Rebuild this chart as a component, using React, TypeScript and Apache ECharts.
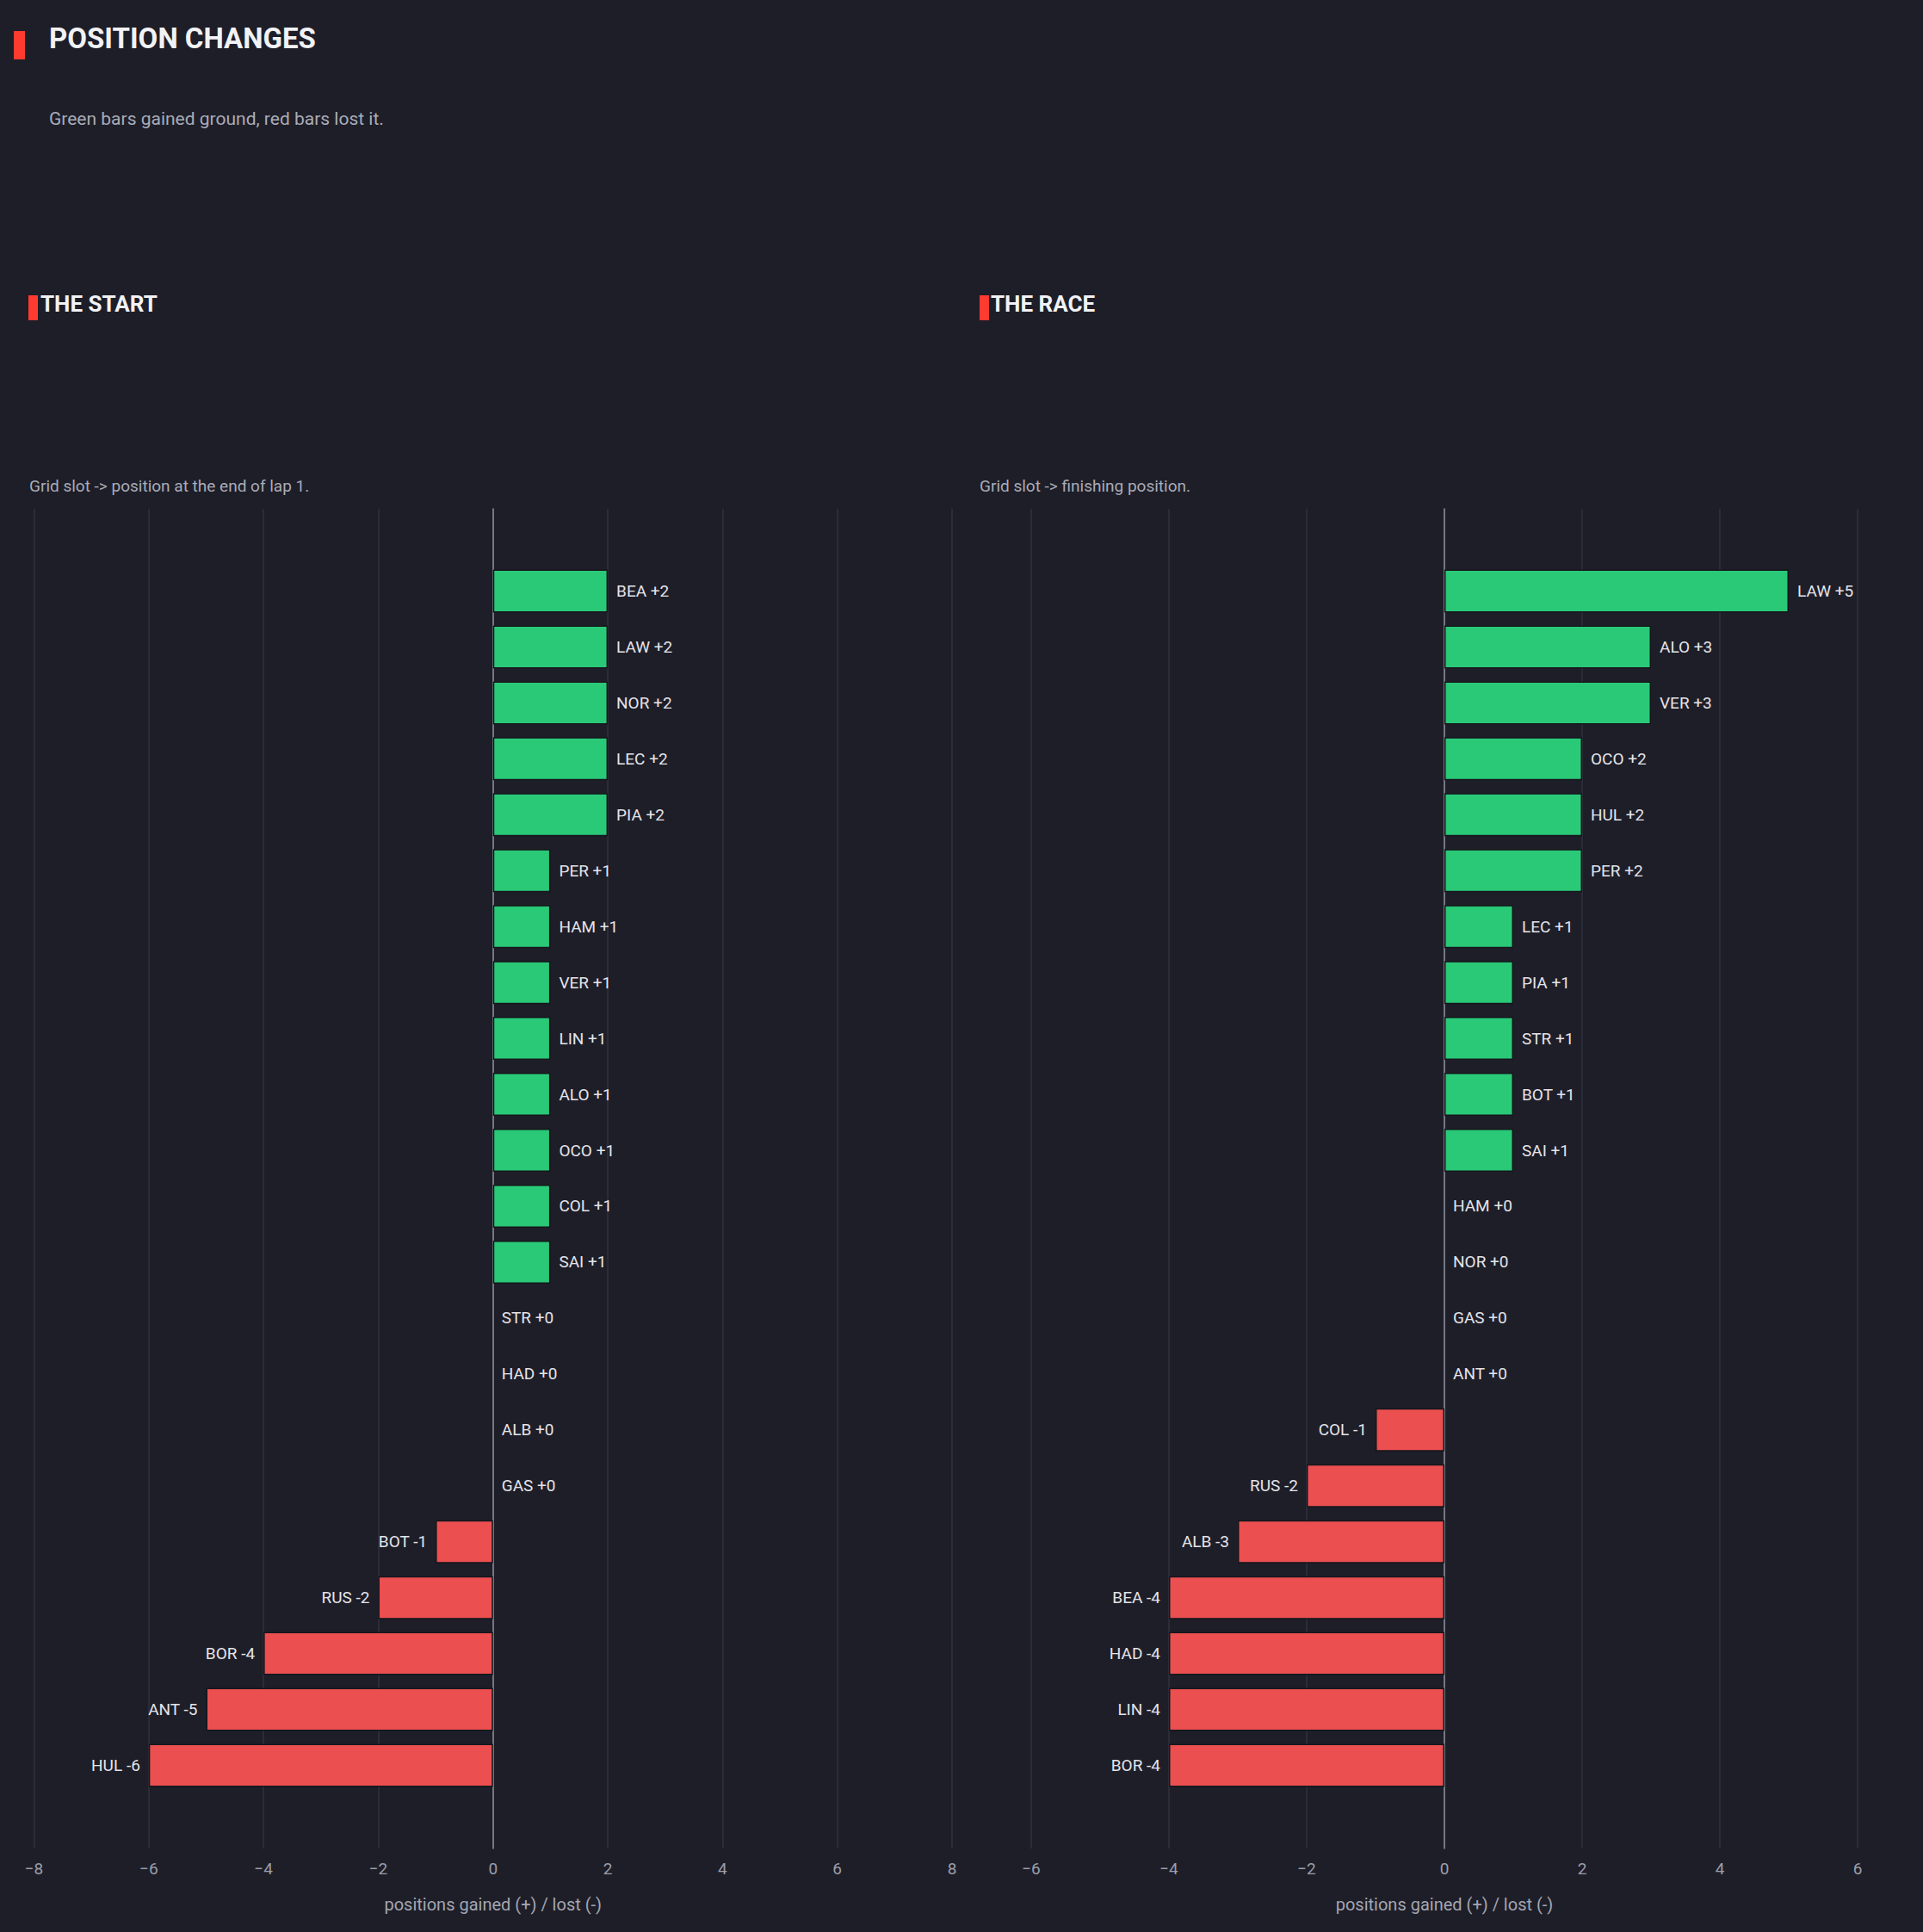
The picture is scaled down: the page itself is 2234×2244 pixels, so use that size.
import React, { useEffect, useRef } from "react";
import * as echarts from "echarts";

const startDrivers = ["BEA", "LAW", "NOR", "LEC", "PIA", "PER", "HAM", "VER", "LIN", "ALO", "OCO", "COL", "SAI", "STR", "HAD", "ALB", "GAS", "BOT", "RUS", "BOR", "ANT", "HUL"];
const startValues = [2, 2, 2, 2, 2, 1, 1, 1, 1, 1, 1, 1, 1, 0, 0, 0, 0, -1, -2, -4, -5, -6];

const raceDrivers = ["LAW", "ALO", "VER", "OCO", "HUL", "PER", "LEC", "PIA", "STR", "BOT", "SAI", "HAM", "NOR", "GAS", "ANT", "COL", "RUS", "ALB", "BEA", "HAD", "LIN", "BOR"];
const raceValues = [5, 3, 3, 2, 2, 2, 1, 1, 1, 1, 1, 0, 0, 0, 0, -1, -2, -3, -4, -4, -4, -4];

const startTicks = { min: -8, max: 8, interval: 2 };
const raceTicks = { min: -6, max: 6, interval: 2 };

const TITLE = "POSITION CHANGES";
const SUBTITLE = "Green bars gained ground, red bars lost it.";
const START_TITLE = "THE START";
const START_SUB = "Grid slot -> position at the end of lap 1.";
const RACE_TITLE = "THE RACE";
const RACE_SUB = "Grid slot -> finishing position.";
const AXIS_NAME = "positions gained (+) / lost (-)";

const FONT = "Roboto, 'Noto Sans', sans-serif";
const BG = "#1e1e28";
const GREEN = "#2ac977";
const RED = "#eb4f50";
const ACCENT = "#ff3b30";

function panel(idx: number, left: number, width: number, ticks: any, drivers: string[], values: number[]) {
  const a = idx * 2;
  const b = a + 1;
  const grids = [
    { left, top: 591, width, height: 1556 },
    { left, top: 654, width, height: 1429 },
  ];
  const xAxes = [
    {
      gridIndex: a,
      type: "value",
      min: ticks.min,
      max: ticks.max,
      interval: ticks.interval,
      axisLine: { show: false },
      axisTick: { show: false },
      splitLine: { show: true, lineStyle: { color: "#30323e", width: 1.5 } },
      axisLabel: { color: "#9b9eab", fontSize: 19, fontFamily: FONT, margin: 14, formatter: (v: number) => (v < 0 ? "\u2212" + Math.abs(v) : String(v)) },
      name: AXIS_NAME,
      nameLocation: "middle",
      nameGap: 55,
      nameTextStyle: { color: "#a3a6b2", fontSize: 20, fontFamily: FONT },
    },
    {
      gridIndex: b,
      type: "value",
      min: ticks.min,
      max: ticks.max,
      interval: ticks.interval,
      show: false,
      splitLine: { show: false },
    },
  ];
  const yAxes = [
    {
      gridIndex: a,
      type: "value",
      min: 0,
      max: 1,
      axisLabel: { show: false },
      axisTick: { show: false },
      splitLine: { show: false },
      axisLine: { show: true, onZero: true, lineStyle: { color: "#8d909c", width: 1.5 } },
    },
    {
      gridIndex: b,
      type: "category",
      data: drivers,
      inverse: true,
      show: false,
    },
  ];
  const series = [
    { type: "scatter", xAxisIndex: a, yAxisIndex: a, data: [], silent: true },
    {
      type: "bar",
      xAxisIndex: b,
      yAxisIndex: b,
      barCategoryGap: "23%",
      data: values.map((v, i) => ({
        value: v,
        itemStyle: { color: v >= 0 ? GREEN : RED, borderColor: "#15161c", borderWidth: v === 0 ? 0 : 1.5 },
        label: {
          show: true,
          position: v >= 0 ? "right" : "left",
          distance: 10,
          color: "#e4e4ea",
          fontSize: 19,
          fontFamily: FONT,
          formatter: () => `${drivers[i]} ${v >= 0 ? "+" : "-"}${Math.abs(v)}`,
        },
      })),
    },
  ];
  return { grids, xAxes, yAxes, series };
}

export default function App() {
  const ref = useRef<HTMLDivElement>(null);
  useEffect(() => {
    document.body.style.margin = "0";
    document.body.style.background = BG;
    const chart = echarts.init(ref.current!, null, { renderer: "svg" });
    const p1 = panel(0, 39.5, 1066.5, startTicks, startDrivers, startValues);
    const p2 = panel(1, 1198, 960, raceTicks, raceDrivers, raceValues);
    chart.setOption({
      animation: false,
      backgroundColor: BG,
      grid: [...p1.grids, ...p2.grids],
      xAxis: [...p1.xAxes, ...p2.xAxes],
      yAxis: [...p1.yAxes, ...p2.yAxes],
      series: [...p1.series, ...p2.series],
      graphic: [
        { type: "rect", shape: { x: 16, y: 36, width: 13, height: 33 }, style: { fill: ACCENT } },
        { type: "text", x: 57, y: 44, style: { text: TITLE, fill: "#f2f2f5", fontSize: 33, fontWeight: "bold", fontFamily: FONT, textVerticalAlign: "middle" } },
        { type: "text", x: 57, y: 138, style: { text: SUBTITLE, fill: "#a9acb8", fontSize: 21, fontFamily: FONT, textVerticalAlign: "middle" } },
        { type: "rect", shape: { x: 33, y: 343, width: 11, height: 29 }, style: { fill: ACCENT } },
        { type: "text", x: 47, y: 353, style: { text: START_TITLE, fill: "#f2f2f5", fontSize: 26, fontWeight: "bold", fontFamily: FONT, textVerticalAlign: "middle" } },
        { type: "text", x: 34, y: 564, style: { text: START_SUB, fill: "#a9acb8", fontSize: 19, fontFamily: FONT, textVerticalAlign: "middle" } },
        { type: "rect", shape: { x: 1138, y: 343, width: 11, height: 29 }, style: { fill: ACCENT } },
        { type: "text", x: 1151, y: 353, style: { text: RACE_TITLE, fill: "#f2f2f5", fontSize: 26, fontWeight: "bold", fontFamily: FONT, textVerticalAlign: "middle" } },
        { type: "text", x: 1138, y: 564, style: { text: RACE_SUB, fill: "#a9acb8", fontSize: 19, fontFamily: FONT, textVerticalAlign: "middle" } },
      ],
    });
    return () => chart.dispose();
  }, []);
  return <div ref={ref} style={{ position: "fixed", left: 0, top: 0, width: 2234, height: 2244 }} />;
}
